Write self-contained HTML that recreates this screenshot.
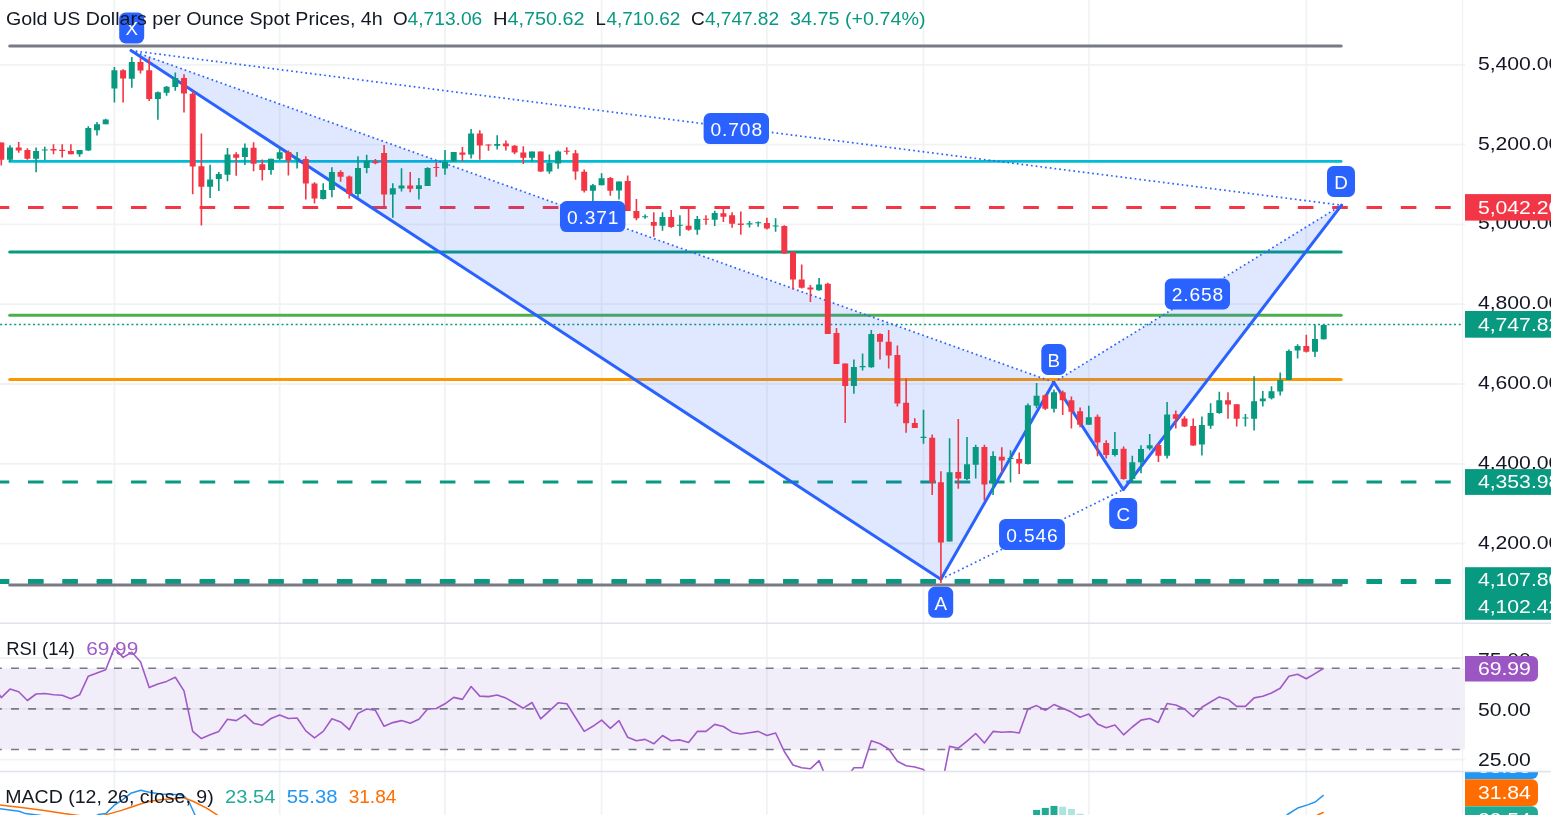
<!DOCTYPE html>
<html><head><meta charset="utf-8"><title>Gold 4h chart</title>
<style>
html,body{margin:0;padding:0;background:#fff;width:1551px;height:815px;overflow:hidden}
svg{display:block;will-change:transform}
text{font-family:"Liberation Sans",sans-serif}
</style></head>
<body>
<svg width="1551" height="815" viewBox="0 0 1551 815">
<rect width="1551" height="815" fill="#fff"/>
<g stroke="#F1F3F3" stroke-width="1.8">
<line x1="114.4" y1="0" x2="114.4" y2="815"/>
<line x1="279.7" y1="0" x2="279.7" y2="815"/>
<line x1="445" y1="0" x2="445" y2="815"/>
<line x1="601.6" y1="0" x2="601.6" y2="815"/>
<line x1="766.9" y1="0" x2="766.9" y2="815"/>
<line x1="923.5" y1="0" x2="923.5" y2="815"/>
<line x1="1088.8" y1="0" x2="1088.8" y2="815"/>
<line x1="1306.3" y1="0" x2="1306.3" y2="815"/>
<line x1="0" y1="64.8" x2="1465.5" y2="64.8"/>
<line x1="0" y1="144.6" x2="1465.5" y2="144.6"/>
<line x1="0" y1="224.4" x2="1465.5" y2="224.4"/>
<line x1="0" y1="304.2" x2="1465.5" y2="304.2"/>
<line x1="0" y1="384" x2="1465.5" y2="384"/>
<line x1="0" y1="463.8" x2="1465.5" y2="463.8"/>
<line x1="0" y1="543.6" x2="1465.5" y2="543.6"/>
<line x1="0" y1="658" x2="1465.5" y2="658"/>
<line x1="0" y1="708.9" x2="1465.5" y2="708.9"/>
<line x1="0" y1="759.6" x2="1465.5" y2="759.6"/>
</g>
<line x1="9.7" y1="46" x2="1341.2" y2="46" stroke="#787B86" stroke-width="3" stroke-linecap="round"/>
<line x1="9.7" y1="161.4" x2="1341.2" y2="161.4" stroke="#00BCD4" stroke-width="2.6" stroke-linecap="round"/>
<line x1="0" y1="207.4" x2="1462.5" y2="207.4" stroke="#F23645" stroke-width="3" stroke-linecap="butt" stroke-dasharray="15.6 18.72" stroke-dashoffset="6.32"/>
<line x1="9.7" y1="251.9" x2="1341.2" y2="251.9" stroke="#089981" stroke-width="3" stroke-linecap="round"/>
<line x1="9.7" y1="315.2" x2="1341.2" y2="315.2" stroke="#4CAF50" stroke-width="3" stroke-linecap="round"/>
<line x1="9.7" y1="379.4" x2="1341.2" y2="379.4" stroke="#FF9800" stroke-width="3" stroke-linecap="round"/>
<line x1="0" y1="482.1" x2="1462.5" y2="482.1" stroke="#089981" stroke-width="3" stroke-linecap="butt" stroke-dasharray="15.6 18.72" stroke-dashoffset="6.32"/>
<line x1="0" y1="580.4" x2="1462.5" y2="580.4" stroke="#089981" stroke-width="3" stroke-linecap="butt" stroke-dasharray="15.6 18.72" stroke-dashoffset="6.32"/>
<line x1="0" y1="582.4" x2="1462.5" y2="582.4" stroke="#089981" stroke-width="3" stroke-linecap="butt" stroke-dasharray="15.6 18.72" stroke-dashoffset="6.32"/>
<line x1="9.7" y1="585.1" x2="1341.2" y2="585.1" stroke="#787B86" stroke-width="3" stroke-linecap="round"/>
<line x1="0" y1="324.5" x2="1462.5" y2="324.5" stroke="#089981" stroke-width="1.7" stroke-dasharray="2 2.69" stroke-dashoffset="-0.14"/>
<path d="M131 50.6 L940.8 579.3 L1053.8 382.3 Z" fill="rgba(41,98,255,0.15)"/>
<path d="M1053.8 382.3 L1123.4 489.6 L1341.6 205.2 Z" fill="rgba(41,98,255,0.15)"/>
<g stroke="#2962FF" stroke-width="1.7" stroke-dasharray="1.7 3.05" fill="none">
<line x1="131" y1="50.6" x2="1053.8" y2="382.3"/>
<line x1="940.8" y1="579.3" x2="1123.4" y2="489.6"/>
<line x1="1053.8" y1="382.3" x2="1341.6" y2="205.2"/>
<line x1="131" y1="50.6" x2="1341.6" y2="205.2"/>
</g>
<polyline points="131,50.6 940.8,579.3 1053.8,382.3 1123.4,489.6 1341.6,205.2" fill="none" stroke="#2962FF" stroke-width="3" stroke-linejoin="round" stroke-linecap="round"/>
<path d="M10 145.2V161.9M36.1 147.6V172.2M44.8 146.8V159.9M79.6 150.1V156.8M88.3 126.2V151M97 122.1V135.4M105.7 118.7V124.2M114.4 67.1V102.6M131.8 57.1V87.8M157.9 91.4V119.8M166.6 86V95.8M175.3 72.6V90.8M210.1 164.7V197.9M218.8 172V190.9M227.5 148.1V181.3M244.9 143.5V165.1M271 158.8V174.8M279.7 147.2V160.1M297.1 152.1V168.6M323.2 183.2V199.6M331.9 167.2V197.2M358 156.2V198M366.7 154.8V173.3M392.8 183.2V217.8M401.5 168.3V191.5M418.9 178V199.6M427.6 167.2V186.1M445 150V174.7M453.7 152.1V161.6M471.1 129.1V158.6M497.2 135.2V149.4M532 151.6V161.6M549.4 154.5V173.7M558.1 150.6V168.7M592.9 184.1V201.3M601.6 173.3V185.3M619 181.4V199.4M645.1 214.5V218.7M662.5 212.2V230.7M679.9 215.2V236M697.3 216.1V234.8M714.7 210.8V226M749.5 221.1V227.6M758.2 221.5V226.7M775.6 218.2V231.7M819.1 277.9V290.8M853.9 359.4V393.8M862.6 353.5V370.6M871.3 329.9V367.8M923.5 409.7V443.8M949.6 438.3V541.6M967 437V480.2M975.7 444.8V478.4M993.1 451.2V495M1010.5 450.2V482.5M1027.9 403.6V464.4M1036.6 383.1V408.2M1054 389.6V412.5M1088.8 405.8V424.7M1114.9 432.1V456.6M1132.3 455.7V480.9M1141 445.3V473.3M1149.7 434V450.2M1167.1 402.1V458.6M1201.9 416.5V455.6M1210.6 403.3V428.8M1219.3 391.7V413.8M1245.4 414.1V426.6M1254.1 376.3V430.6M1262.8 391V406.5M1271.5 386.2V399.5M1280.2 372.4V395.6M1288.9 349.5V380.1M1297.6 344.2V358.6M1315 324.4V356.9M1323.7 324.4V339.6" stroke="#089981" stroke-width="1.6" fill="none"/>
<path d="M7 147.6h6v12.1h-6zM33.1 150.9h6v7.8h-6zM41.8 149.4h6v1.1h-6zM76.6 150.1h6v4.1h-6zM85.3 128h6v22.5h-6zM94 124.2h6v6h-6zM102.7 119.4h6v4.8h-6zM111.4 70.2h6v18.4h-6zM128.8 61.9h6v16.8h-6zM154.9 92.2h6v6.7h-6zM163.6 86.7h6v6h-6zM172.3 78.1h6v8.8h-6zM207.1 179.4h6v7.4h-6zM215.8 173.9h6v5.2h-6zM224.5 154.6h6v20.2h-6zM241.9 147.8h6v9.2h-6zM268 158.8h6v11.1h-6zM276.7 152.2h6v6.6h-6zM294.1 158.5h6v1h-6zM320.2 189.9h6v9h-6zM328.9 172h6v17.9h-6zM355 167.9h6v26.1h-6zM363.7 160.8h6v7.1h-6zM389.8 188.2h6v6.3h-6zM398.5 185.5h6v3.1h-6zM415.9 185.2h6v3.9h-6zM424.6 167.9h6v18h-6zM442 161.8h6v6.8h-6zM450.7 152.1h6v9.5h-6zM468.1 133.4h6v21.1h-6zM494.2 144.1h6v1.6h-6zM529 151.6h6v6.1h-6zM546.4 163.1h6v8.3h-6zM555.1 151.6h6v11.9h-6zM589.9 185.3h6v5.5h-6zM598.6 178.2h6v7.1h-6zM616 181.4h6v9.1h-6zM642.1 216.2h6v1h-6zM659.5 217.1h6v8.6h-6zM676.9 224.8h6v1h-6zM694.3 219.1h6v10.6h-6zM711.7 213.1h6v6.6h-6zM746.5 223.3h6v1.2h-6zM755.2 222.3h6v1h-6zM772.6 225.5h6v1h-6zM816.1 284.4h6v5.8h-6zM850.9 366.9h6v19h-6zM859.6 365.9h6v1.3h-6zM868.3 333.9h6v33.3h-6zM920.5 436.7h6v1.2h-6zM946.6 472.3h6v69.3h-6zM964 464.3h6v14.7h-6zM972.7 446.9h6v17.8h-6zM990.1 456.1h6v27.2h-6zM1007.5 457.9h6v1.2h-6zM1024.9 405.2h6v58.8h-6zM1033.6 395.7h6v10.1h-6zM1051 392.3h6v16.5h-6zM1085.8 417.3h6v7.4h-6zM1111.9 449h6v5.9h-6zM1129.3 462.2h6v16.8h-6zM1138 449h6v13.2h-6zM1146.7 445.3h6v3.1h-6zM1164.1 414.4h6v41.3h-6zM1198.9 425.1h6v19.4h-6zM1207.6 413.1h6v12.6h-6zM1216.3 400.3h6v12.8h-6zM1242.4 417.5h6v1h-6zM1251.1 401.2h6v17.5h-6zM1259.8 398.4h6v2.8h-6zM1268.5 391.2h6v7.1h-6zM1277.2 380.1h6v11.4h-6zM1285.9 351.1h6v29h-6zM1294.6 345.9h6v4.7h-6zM1312 338.9h6v12.8h-6zM1320.7 324.9h6v14.4h-6z" fill="#089981"/>
<path d="M1.3 142.4V165.6M18.7 142V152.7M27.4 148.3V159.7M53.5 144.2V154.2M62.2 144.2V157.5M70.9 144.2V154.2M123.1 69.3V102.6M140.5 58V73.5M149.2 58V101.1M184 74.2V112.5M192.7 91V194.2M201.4 133.4V225.5M236.2 152.2V175.8M253.6 142.2V171.2M262.3 159.6V180.4M288.4 150.4V175.6M305.8 156.2V199.6M314.5 182.3V203.4M340.6 170.2V181.8M349.3 175.6V198.5M375.4 159.1V164.3M384.1 145V206.4M410.2 172V192.2M436.3 162.1V176.7M462.4 147V161.2M479.8 130.3V159.8M488.5 144.4V150.8M505.9 140.5V150.6M514.6 145V154.3M523.3 146.3V164.1M540.7 151.6V172.1M566.8 147.3V154.6M575.5 150V179.8M584.2 169.4V192.4M610.3 177V195.7M627.7 175.5V211.1M636.4 199V220.3M653.8 212.2V236.7M671.2 210.1V227.7M688.6 207.5V230.7M706 215.2V224.7M723.4 207.5V222.1M732.1 212.2V227.7M740.8 211.4V234.8M766.9 217.8V229.4M784.3 225.2V254M793 251.3V289.6M801.7 264.4V288.6M810.4 284.9V302M827.8 282.8V333.9M836.5 328V363.9M845.2 363.5V422.9M880 333.3V359.4M888.7 329.9V368.6M897.4 345.6V406.5M906.1 378.4V432.8M914.8 418.3V427.9M932.2 434.6V495M940.9 471.3V583M958.3 419V488.8M984.4 444.8V500.5M1001.8 447.2V473.3M1019.2 452.6V473.9M1045.3 394.5V410M1062.7 390.4V415M1071.4 396.6V428.5M1080.1 407.6V427.2M1097.5 414.4V456.3M1106.2 440.2V458.6M1123.6 446.5V479.7M1158.4 443.5V461.9M1175.8 410.4V428.6M1184.5 416.3V427M1193.2 418.4V445.7M1228 392.2V418.7M1236.7 404.3V426.6M1306.3 334.8V352.5" stroke="#F23645" stroke-width="1.6" fill="none"/>
<path d="M-1.7 142.4h6v17.3h-6zM15.7 147.6h6v2.9h-6zM24.4 150.1h6v8.6h-6zM50.5 149h6v1.6h-6zM59.2 149.8h6v1.3h-6zM67.9 150.9h6v3.3h-6zM120.1 70.2h6v8.2h-6zM137.5 61.9h6v8.7h-6zM146.2 70.2h6v28.7h-6zM181 78.1h6v15.5h-6zM189.7 93.8h6v72.8h-6zM198.4 166.2h6v20.6h-6zM233.2 154.2h6v3.5h-6zM250.6 147.8h6v16h-6zM259.3 164.3h6v5.6h-6zM285.4 152.1h6v8.4h-6zM302.8 159.1h6v24.3h-6zM311.5 183.4h6v15.1h-6zM337.6 172h6v4.7h-6zM346.3 176.4h6v17.6h-6zM372.4 161.2h6v2h-6zM381.1 153.1h6v41.4h-6zM407.2 185.5h6v3.3h-6zM433.3 167h6v1h-6zM459.4 152.4h6v2.4h-6zM476.8 133.4h6v12h-6zM485.5 144.4h6v1h-6zM502.9 143.5h6v2.8h-6zM511.6 145.7h6v6.7h-6zM520.3 152.4h6v5.3h-6zM537.7 151.6h6v19.8h-6zM563.8 150.7h6v1h-6zM572.5 153.2h6v18.4h-6zM581.2 171.8h6v19h-6zM607.3 178h6v12.8h-6zM624.7 181h6v30.1h-6zM633.4 211.1h6v7.1h-6zM650.8 221.9h6v3.8h-6zM668.2 217.1h6v10h-6zM685.6 225.7h6v4.1h-6zM703 218.7h6v1h-6zM720.4 213.3h6v3.5h-6zM729.1 215.2h6v8.6h-6zM737.8 223.4h6v1.7h-6zM763.9 223.1h6v5.4h-6zM781.3 226h6v27.4h-6zM790 252.1h6v27.4h-6zM798.7 279.5h6v8.2h-6zM807.4 287.4h6v2.2h-6zM824.8 283.8h6v50.1h-6zM833.5 332.9h6v31h-6zM842.2 363.5h6v22.4h-6zM877 333.9h6v7.8h-6zM885.7 341.7h6v13.8h-6zM894.4 354.9h6v48.7h-6zM903.1 402.7h6v20.5h-6zM911.8 422.9h6v5h-6zM929.2 437.7h6v45h-6zM937.9 482.3h6v60.2h-6zM955.3 472h6v6.4h-6zM981.4 446.9h6v37.6h-6zM998.8 456.7h6v3.7h-6zM1016.2 459.1h6v4.3h-6zM1042.3 395.3h6v13.5h-6zM1059.7 392.3h6v7.9h-6zM1068.4 400.2h6v11.5h-6zM1077.1 411.3h6v13.5h-6zM1094.5 416.8h6v25.8h-6zM1103.2 443.1h6v11.8h-6zM1120.6 448.7h6v30.3h-6zM1155.4 445.1h6v10.6h-6zM1172.8 414.3h6v4.4h-6zM1181.5 418.4h6v8.2h-6zM1190.2 426.1h6v19.3h-6zM1225 400.3h6v4.2h-6zM1233.7 404.3h6v14.4h-6zM1303.3 345.9h6v5.8h-6z" fill="#F23645"/>
<g font-family="Liberation Sans, sans-serif">
<rect x="119.2" y="12.5" width="25" height="31" rx="6.5" fill="#2962FF"/>
<text x="131.7" y="35.2" fill="#fff" font-size="18.8" text-anchor="middle">X</text>
<rect x="928.2" y="586.8" width="25" height="31" rx="6.5" fill="#2962FF"/>
<text x="940.7" y="609.5" fill="#fff" font-size="18.8" text-anchor="middle">A</text>
<rect x="1041.3" y="344" width="25" height="31" rx="6.5" fill="#2962FF"/>
<text x="1053.8" y="366.7" fill="#fff" font-size="18.8" text-anchor="middle">B</text>
<rect x="1109.2" y="497.9" width="28" height="31" rx="6.5" fill="#2962FF"/>
<text x="1123.2" y="520.6" fill="#fff" font-size="18.8" text-anchor="middle">C</text>
<rect x="1327" y="166" width="28" height="31" rx="6.5" fill="#2962FF"/>
<text x="1341" y="188.7" fill="#fff" font-size="18.8" text-anchor="middle">D</text>
<rect x="703.6" y="113.1" width="65.4" height="31" rx="6.5" fill="#2962FF"/>
<text x="736.3" y="135.8" fill="#fff" font-size="19.2" text-anchor="middle" textLength="51.5" lengthAdjust="spacing">0.708</text>
<rect x="560" y="201.1" width="65.4" height="31" rx="6.5" fill="#2962FF"/>
<text x="592.7" y="223.8" fill="#fff" font-size="19.2" text-anchor="middle" textLength="51.5" lengthAdjust="spacing">0.371</text>
<rect x="999.05" y="518.9" width="65.9" height="31" rx="6.5" fill="#2962FF"/>
<text x="1032" y="541.6" fill="#fff" font-size="19.2" text-anchor="middle" textLength="51.5" lengthAdjust="spacing">0.546</text>
<rect x="1164.8" y="278.5" width="65.2" height="31" rx="6.5" fill="#2962FF"/>
<text x="1197.4" y="301.2" fill="#fff" font-size="19.2" text-anchor="middle" textLength="51.5" lengthAdjust="spacing">2.658</text>
</g>
<rect x="0" y="668.2" width="1465" height="81.3" fill="rgba(126,87,194,0.1)"/>
<g stroke="#787B86" stroke-width="1.6" stroke-dasharray="7.95 9.203" stroke-dashoffset="6.15">
<line x1="0" y1="668.2" x2="1462.5" y2="668.2"/>
<line x1="0" y1="708.9" x2="1462.5" y2="708.9"/>
<line x1="0" y1="749.5" x2="1462.5" y2="749.5"/>
</g>
<svg x="0" y="624" width="1462.5" height="147" overflow="hidden"><g transform="translate(0,-624)"><polyline points="-7.4,684 1.3,697.6 10,689.1 18.7,691.7 27.4,700.5 36.1,694 44.8,693.5 53.5,694.8 62.2,695.3 70.9,698.7 79.6,694.8 88.3,676.2 97,672.9 105.7,669.8 114.4,647.9 123.1,657.4 131.8,652.2 140.5,661.8 149.2,687.6 157.9,684 166.6,681.4 175.3,677.3 184,690.9 192.7,731.4 201.4,738.6 210.1,734.8 218.8,731.4 227.5,719.3 236.2,720.6 244.9,714.9 253.6,723.2 262.3,725.2 271,718.5 279.7,714.9 288.4,718.5 297.1,718 305.8,730.9 314.5,737.9 323.2,731.4 331.9,718.8 340.6,721.9 349.3,729.6 358,713.4 366.7,709 375.4,710.3 384.1,726.3 392.8,722.6 401.5,720.6 410.2,723.2 418.9,719.3 427.6,709 436.3,708.5 445,703.8 453.7,697.4 462.4,699.4 471.1,686.5 479.8,696.1 488.5,696.6 497.2,695 505.9,698.1 514.6,703 523.3,708.2 532,702.5 540.7,718.8 549.4,710.8 558.1,702.8 566.8,703.8 575.5,717.5 584.2,731.4 592.9,726.3 601.6,720.1 610.3,728.3 619,720.6 627.7,737.3 636.4,740.7 645.1,739.4 653.8,743.8 662.5,735.5 671.2,740.7 679.9,739.9 688.6,742.5 697.3,731.4 706,731.4 714.7,724.4 723.4,726.5 732.1,732.2 740.8,734 749.5,732.7 758.2,731.4 766.9,735.5 775.6,733 784.3,751.5 793,765 801.7,767.8 810.4,768.8 819.1,760.6 827.8,782 836.5,786 845.2,780 853.9,767.8 862.6,767.8 871.3,740.7 880,743.8 888.7,749 897.4,761.3 906.1,765.7 914.8,767 923.5,769.6 932.2,782 940.9,790 949.6,746.4 958.3,748.2 967,741.2 975.7,733.5 984.4,743 993.1,731.4 1001.8,732.2 1010.5,731.7 1019.2,733 1027.9,709 1036.6,705.6 1045.3,710.3 1054,704.6 1062.7,708.2 1071.4,712.1 1080.1,717.2 1088.8,714.1 1097.5,723.9 1106.2,727.8 1114.9,725 1123.6,734.8 1132.3,727 1141,720.1 1149.7,718.5 1158.4,722.4 1167.1,703.5 1175.8,705 1184.5,709 1193.2,716.7 1201.9,707.2 1210.6,702 1219.3,696.9 1228,699.4 1236.7,706.4 1245.4,706.4 1254.1,697.9 1262.8,696.3 1271.5,693 1280.2,688.3 1288.9,676.2 1297.6,674.2 1306.3,678.8 1315,673.6 1323.7,668.2" fill="none" stroke="#A05AC8" stroke-width="1.6" stroke-linejoin="round"/></g></svg>
<rect x="1033.1" y="809.9" width="7" height="5.1" fill="#22AB94"/>
<rect x="1041.8" y="807.9" width="7" height="7.1" fill="#22AB94"/>
<rect x="1050.5" y="805.9" width="7" height="9.1" fill="#22AB94"/>
<rect x="1059.2" y="806.7" width="7" height="8.3" fill="#ACE5DC"/>
<rect x="1067.9" y="809" width="7" height="6" fill="#ACE5DC"/>
<rect x="1076.6" y="813.8" width="7" height="1.2" fill="#ACE5DC"/>
<polyline points="0,808.8 19.1,811.3 25.5,813.6 41.1,815.6" fill="none" stroke="#2196F3" stroke-width="1.5" stroke-linejoin="round"/>
<polyline points="96,816 98.3,814.6 105.8,813.6 114.5,805 122.7,799.7 130.8,793.3 140.7,790.2 150.5,792.5 161,793.9 170.2,794.5 179.5,794.5 184.8,796.8 188.8,801.5 195.5,816" fill="none" stroke="#2196F3" stroke-width="1.5" stroke-linejoin="round"/>
<polyline points="1284,817 1287.5,814.5 1298.4,807.7 1307.6,804.9 1315.2,802 1323.6,795.2" fill="none" stroke="#2196F3" stroke-width="1.5" stroke-linejoin="round"/>
<polyline points="0,804.9 21.3,807.6 42.6,810.2 63.8,813.6 76.6,815.2 90,817" fill="none" stroke="#FF6D00" stroke-width="1.5" stroke-linejoin="round"/>
<polyline points="100,816.5 106.4,814.6 121.5,810.4 130.8,807.3 141.2,803.8 151.7,800.9 162.1,799.5 171.4,799.1 183,797.4 193.5,801.5 206.2,807.9 216.7,814.6 219,817" fill="none" stroke="#FF6D00" stroke-width="1.5" stroke-linejoin="round"/>
<polyline points="1315,817 1317.7,815 1323.6,812.3" fill="none" stroke="#FF6D00" stroke-width="1.5" stroke-linejoin="round"/>
<line x1="0" y1="623.3" x2="1551" y2="623.3" stroke="#E0E3EB" stroke-width="1.5"/>
<line x1="0" y1="771.4" x2="1551" y2="771.4" stroke="#E0E3EB" stroke-width="1.5"/>
<rect x="1464.9" y="0" width="90" height="815" fill="#fff"/>
<line x1="1462.5" y1="0" x2="1462.5" y2="815" stroke="#F0F1F3" stroke-width="1.3"/>
<line x1="1462.5" y1="623.3" x2="1551" y2="623.3" stroke="#E0E3EB" stroke-width="1.5"/>
<line x1="1462.5" y1="771.4" x2="1551" y2="771.4" stroke="#E0E3EB" stroke-width="1.5"/>
<text transform="translate(1477.9 69.7) scale(1.11 1)" x="0" y="0" fill="#131722" font-size="19.1" font-family="Liberation Sans, sans-serif">5,400.00</text>
<text transform="translate(1477.9 149.5) scale(1.11 1)" x="0" y="0" fill="#131722" font-size="19.1" font-family="Liberation Sans, sans-serif">5,200.00</text>
<text transform="translate(1477.9 229.3) scale(1.11 1)" x="0" y="0" fill="#131722" font-size="19.1" font-family="Liberation Sans, sans-serif">5,000.00</text>
<text transform="translate(1477.9 309.1) scale(1.11 1)" x="0" y="0" fill="#131722" font-size="19.1" font-family="Liberation Sans, sans-serif">4,800.00</text>
<text transform="translate(1477.9 388.9) scale(1.11 1)" x="0" y="0" fill="#131722" font-size="19.1" font-family="Liberation Sans, sans-serif">4,600.00</text>
<text transform="translate(1477.9 468.7) scale(1.11 1)" x="0" y="0" fill="#131722" font-size="19.1" font-family="Liberation Sans, sans-serif">4,400.00</text>
<text transform="translate(1477.9 548.5) scale(1.11 1)" x="0" y="0" fill="#131722" font-size="19.1" font-family="Liberation Sans, sans-serif">4,200.00</text>
<text transform="translate(1477.9 665.5) scale(1.11 1)" x="0" y="0" fill="#131722" font-size="19.1" font-family="Liberation Sans, sans-serif">75.00</text>
<text transform="translate(1477.9 715.9) scale(1.11 1)" x="0" y="0" fill="#131722" font-size="19.1" font-family="Liberation Sans, sans-serif">50.00</text>
<rect x="1465" y="194.1" width="86" height="26.5" fill="#F23645"/>
<text transform="translate(1477.9 213.65) scale(1.11 1)" x="0" y="0" fill="#fff" font-size="19.1" font-family="Liberation Sans, sans-serif">5,042.20</text>
<rect x="1465" y="311" width="86" height="26.7" fill="#089981"/>
<text transform="translate(1477.9 330.65) scale(1.11 1)" x="0" y="0" fill="#fff" font-size="19.1" font-family="Liberation Sans, sans-serif">4,747.82</text>
<rect x="1465" y="469.1" width="86" height="25.8" fill="#089981"/>
<text transform="translate(1477.9 488.3) scale(1.11 1)" x="0" y="0" fill="#fff" font-size="19.1" font-family="Liberation Sans, sans-serif">4,353.98</text>
<rect x="1465" y="567.2" width="86" height="52.6" fill="#089981"/>
<text transform="translate(1477.9 586.2) scale(1.11 1)" x="0" y="0" fill="#fff" font-size="19.1" font-family="Liberation Sans, sans-serif">4,107.80</text>
<text transform="translate(1477.9 612.7) scale(1.11 1)" x="0" y="0" fill="#fff" font-size="19.1" font-family="Liberation Sans, sans-serif">4,102.42</text>
<path d="M1465 656.1 H1532 a6 6 0 0 1 6 6 V675.4 a6 6 0 0 1 -6 6 H1465 Z" fill="#9C56C3"/>
<text transform="translate(1477.9 675.05) scale(1.11 1)" x="0" y="0" fill="#fff" font-size="19.1" font-family="Liberation Sans, sans-serif">69.99</text>
<path d="M1465 766 H1532 a6 6 0 0 1 6 6 V773 a6 6 0 0 1 -6 6 H1465 Z" fill="#2196F3"/>
<text transform="translate(1477.9 772.9) scale(1.11 1)" x="0" y="0" fill="#fff" font-size="19.1" font-family="Liberation Sans, sans-serif">55.38</text>
<path d="M1465 779.2 H1532 a6 6 0 0 1 6 6 V799.9 a6 6 0 0 1 -6 6 H1465 Z" fill="#FF6D00"/>
<text transform="translate(1477.9 798.85) scale(1.11 1)" x="0" y="0" fill="#fff" font-size="19.1" font-family="Liberation Sans, sans-serif">31.84</text>
<path d="M1465 806.2 H1532 a6 6 0 0 1 6 6 V826.9 a6 6 0 0 1 -6 6 H1465 Z" fill="#22AB94"/>
<text transform="translate(1477.9 825.85) scale(1.11 1)" x="0" y="0" fill="#fff" font-size="19.1" font-family="Liberation Sans, sans-serif">23.54</text>
<rect x="1463" y="765" width="88" height="6.4" fill="#fff"/>
<line x1="1462.5" y1="771.4" x2="1551" y2="771.4" stroke="#E0E3EB" stroke-width="1.5"/>
<text transform="translate(1477.9 766.2) scale(1.11 1)" x="0" y="0" fill="#131722" font-size="19.1" font-family="Liberation Sans, sans-serif">25.00</text>
<text transform="translate(6.02 24.8) scale(1.0621 1)" x="0" y="0" fill="#131722" font-size="18.5" font-family="Liberation Sans, sans-serif">Gold US Dollars per Ounce Spot Prices, 4h</text>
<text transform="translate(393.05 24.8) scale(1.0180 1)" x="0" y="0" fill="#131722" font-size="18.5" font-family="Liberation Sans, sans-serif">O</text>
<text transform="translate(407.62 24.8) scale(1.0373 1)" x="0" y="0" fill="#089981" font-size="18.5" font-family="Liberation Sans, sans-serif">4,713.06</text>
<text transform="translate(492.99 24.8) scale(1.0907 1)" x="0" y="0" fill="#131722" font-size="18.5" font-family="Liberation Sans, sans-serif">H</text>
<text transform="translate(507.4 24.8) scale(1.0726 1)" x="0" y="0" fill="#089981" font-size="18.5" font-family="Liberation Sans, sans-serif">4,750.62</text>
<text transform="translate(595.51 24.8) scale(1.0082 1)" x="0" y="0" fill="#131722" font-size="18.5" font-family="Liberation Sans, sans-serif">L</text>
<text transform="translate(606.42 24.8) scale(1.0287 1)" x="0" y="0" fill="#089981" font-size="18.5" font-family="Liberation Sans, sans-serif">4,710.62</text>
<text transform="translate(690.95 24.8) scale(1.0300 1)" x="0" y="0" fill="#131722" font-size="18.5" font-family="Liberation Sans, sans-serif">C</text>
<text transform="translate(704.92 24.8) scale(1.0301 1)" x="0" y="0" fill="#089981" font-size="18.5" font-family="Liberation Sans, sans-serif">4,747.82</text>
<text transform="translate(790.11 24.8) scale(1.0667 1)" x="0" y="0" fill="#089981" font-size="18.5" font-family="Liberation Sans, sans-serif">34.75 (+0.74%)</text>
<text transform="translate(6.22 654.8) scale(0.9980 1)" x="0" y="0" fill="#131722" font-size="18.5" font-family="Liberation Sans, sans-serif">RSI (14)</text>
<text transform="translate(86.16 654.8) scale(1.1260 1)" x="0" y="0" fill="#A05AC8" font-size="18.5" font-family="Liberation Sans, sans-serif">69.99</text>
<text transform="translate(5.24 803.2) scale(1.0564 1)" x="0" y="0" fill="#131722" font-size="18.5" font-family="Liberation Sans, sans-serif">MACD (12, 26, close, 9)</text>
<text transform="translate(225.1 803.2) scale(1.0855 1)" x="0" y="0" fill="#22AB94" font-size="18.5" font-family="Liberation Sans, sans-serif">23.54</text>
<text transform="translate(286.79 803.2) scale(1.0945 1)" x="0" y="0" fill="#2196F3" font-size="18.5" font-family="Liberation Sans, sans-serif">55.38</text>
<text transform="translate(348.63 803.2) scale(1.0323 1)" x="0" y="0" fill="#FF6D00" font-size="18.5" font-family="Liberation Sans, sans-serif">31.84</text>
</svg>
</body></html>
